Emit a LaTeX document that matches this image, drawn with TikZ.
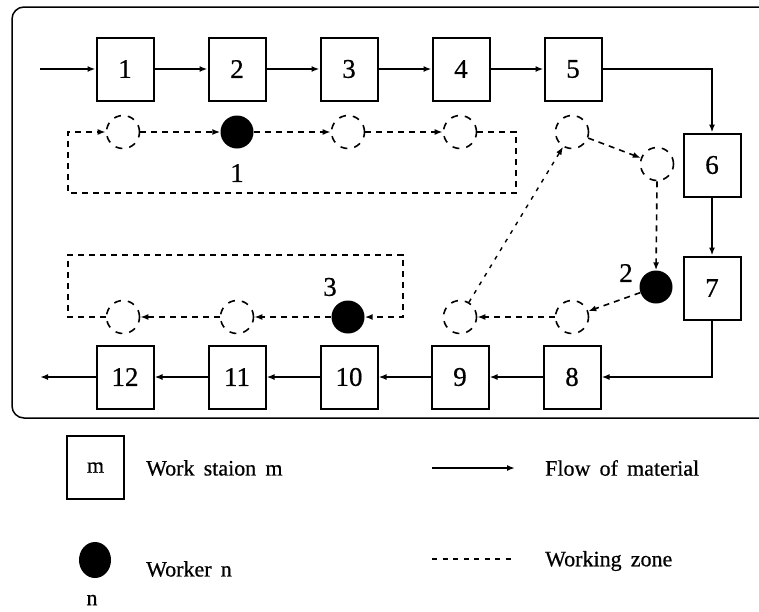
\documentclass[tikz,border=0pt]{standalone}
\usepackage{fontspec}
\setmainfont{Liberation Serif}[FakeBold=0.6]
\usetikzlibrary{arrows.meta,shapes.geometric}
\begin{document}
\begin{tikzpicture}[x=1pt,y=-1pt,
  station/.style={draw,line width=2pt,minimum width=57pt,minimum height=63pt,inner sep=0pt,font=\fontsize{27}{27}\selectfont},
  spot/.style={draw,circle,line width=1.6pt,dash pattern=on 7pt off 7pt,minimum size=33pt,inner sep=0pt},
  worker/.style={circle,fill=black,minimum size=33pt,inner sep=0pt},
  tip/.style={-{Latex[length=8pt,width=6pt]}},
  flow/.style={line width=1.6pt,tip},
  zone/.style={line width=1.6pt,dash pattern=on 6pt off 5pt,tip},
  zonefine/.style={line width=1.4pt,dash pattern=on 4pt off 6pt,tip},
  lbl/.style={font=\fontsize{27}{27}\selectfont,inner sep=0pt},
  legend/.style={anchor=west,font=\fontsize{22}{22}\selectfont,inner sep=0pt}
]
\useasboundingbox (0,0) rectangle (759,611);

% plant frame (open to the right)
\draw[line width=1.5pt,rounded corners=12pt] (759,7) -- (12,7) -- (12,418) -- (759,418);

% work stations
\node[station] (s1)  at (125,69)  {1};
\node[station] (s2)  at (237,69)  {2};
\node[station] (s3)  at (349,69)  {3};
\node[station] (s4)  at (461,69)  {4};
\node[station] (s5)  at (573,69)  {5};
\node[station] (s6)  at (712,165) {6};
\node[station] (s7)  at (712,288) {7};
\node[station] (s8)  at (572,377) {8};
\node[station] (s9)  at (460,377) {9};
\node[station] (s10) at (349,377) {10};
\node[station] (s11) at (237,377) {11};
\node[station] (s12) at (125,377) {12};

% material flow
\coordinate (in)  at (40,69);
\coordinate (out) at (40,377);
\draw[flow] (in) -- (s1);
\draw[flow] (s1) -- (s2);
\draw[flow] (s2) -- (s3);
\draw[flow] (s3) -- (s4);
\draw[flow] (s4) -- (s5);
\draw[flow] (s5.east) -| (s6.north);
\draw[flow] (s6) -- (s7);
\draw[flow] (s7.south) |- (s8.east);
\draw[flow] (s8) -- (s9);
\draw[flow] (s9) -- (s10);
\draw[flow] (s10) -- (s11);
\draw[flow] (s11) -- (s12);
\draw[flow] (s12) -- (out);

% zone of worker 1
\node[spot]   (a1) at (123,132) {};
\node[worker] (w1) at (237,132) {};
\node[spot]   (a3) at (348,132) {};
\node[spot]   (a4) at (460,132) {};
\node[lbl] (w1l) at (237,173) {1};
\coordinate (z1a) at (516,132);
\coordinate (z1b) at (516,193);
\coordinate (z1c) at (68,193);
\coordinate (z1d) at (68,132);
\draw[zone] (a4.east) -- (z1a) -- (z1b) -- (z1c) -- (z1d) -- (a1.west);
\draw[zone] (a1) -- (w1);
\draw[zone] (w1) -- (a3);
\draw[zone] (a3) -- (a4);

% zone of worker 2
\node[spot]   (b5) at (572,132) {};
\node[spot]   (b6) at (657,164) {};
\node[worker] (w2) at (656,287) {};
\node[spot]   (b8) at (572,317) {};
\node[spot]   (b9) at (460,317) {};
\node[lbl] (w2l) at (626,273) {2};
\draw[zone] (b5) -- (b6);
\draw[zone] (b6.south) -- (w2.north);
\draw[zone] (w2) -- (b8);
\draw[zone] (b8) -- (b9);
\draw[zonefine] (b9) -- (b5);

% zone of worker 3
\node[worker] (w3)  at (348,317) {};
\node[spot]   (c11) at (237,317) {};
\node[spot]   (c12) at (123,317) {};
\node[lbl] (w3l) at (330,287) {3};
\coordinate (z3a) at (68,317);
\coordinate (z3b) at (68,255);
\coordinate (z3c) at (403,255);
\coordinate (z3d) at (403,317);
\draw[zone] (c12.west) -- (z3a) -- (z3b) -- (z3c) -- (z3d) -- (w3.east);
\draw[zone] (w3) -- (c11);
\draw[zone] (c11) -- (c12);

% legend
\node[station,font=\fontsize{22}{22}\selectfont] (lm) at (95.5,467.5) {m};
\node[legend] (lmt) at (146,468) {Work\, staion\, m};
\node[fill=black,ellipse,minimum width=32pt,minimum height=36pt,inner sep=0pt] (lw) at (95,560) {};
\node[lbl,font=\fontsize{22}{22}\selectfont] (lwn) at (92,600) {n};
\node[legend] (lwt) at (146,569) {Worker\, n};
\coordinate (lfa) at (432,468);
\coordinate (lfb) at (515,468);
\draw[flow] (lfa) -- (lfb);
\node[legend] (lft) at (545,468) {Flow\, of\, material};
\coordinate (lza) at (432,559);
\coordinate (lzb) at (515,559);
\draw[line width=1.3pt,dash pattern=on 5pt off 5.5pt] (lza) -- (lzb);
\node[legend] (lzt) at (545,561) {Working\, zone};
\end{tikzpicture}
\end{document}
